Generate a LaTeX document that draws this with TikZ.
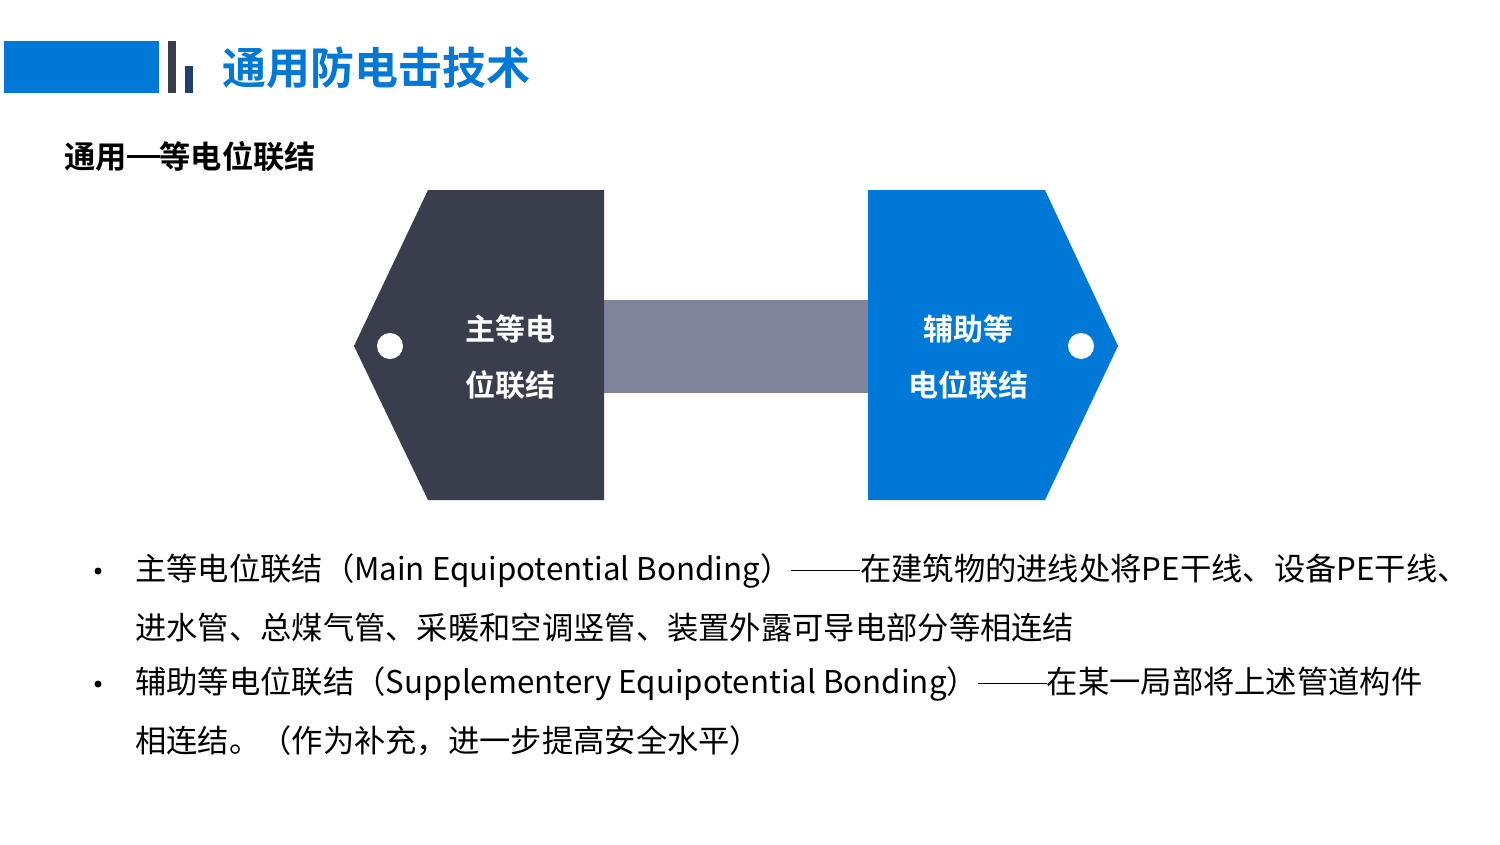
\documentclass[tikz,border=0pt]{standalone}
\usepackage{fontspec}
\setmainfont{Noto Sans CJK SC}[BoldFont={Noto Sans CJK SC Bold}]
\usepackage{xcolor}
\newcommand\longdash[2]{\rule[#2em]{#1em}{0.05em}}

\begin{document}
\begin{tikzpicture}[x=1pt,y=-1pt,
  shapetext/.style={text=white,font=\fontsize{30}{36}\selectfont\bfseries,align=center},
  bodytext/.style={anchor=west,inner sep=0pt,font=\fontsize{31.3}{36}\selectfont}]
\definecolor{winblue}{HTML}{0078D7}
\definecolor{slate}{HTML}{3A3D4B}
\definecolor{navy}{HTML}{1F3F6E}
\definecolor{bargray}{HTML}{80849B}
\path[use as bounding box,fill=white] (0,0) rectangle (1500,844);
% header
\fill[winblue] (4,41) rectangle (159,93);
\fill[slate] (168,41) rectangle (176,93);
\fill[navy] (185,66) rectangle (193,93);
\node[anchor=west,inner sep=0pt,text=winblue,font=\fontsize{44}{50}\selectfont\bfseries] (title) at (222,68) {通用防电击技术};
\node[anchor=west,inner sep=0pt,font=\fontsize{31.3}{36}\selectfont\bfseries] (subtitle) at (64,157) {通用\rule[0.36em]{1.05em}{0.09em}等电位联结};
% the two bonding blocks
\coordinate (Ltip) at (354,346);
\coordinate (Rtip) at (1118,346);
\fill[bargray] (604,300) rectangle (868,393);
\fill[slate] (428,190) -- (604,190) -- (604,500) -- (428,500) -- (Ltip) -- cycle;
\fill[winblue] (868,190) -- (1045,190) -- (Rtip) -- (1045,500) -- (868,500) -- cycle;
\fill[white] (390,346) circle (13);
\fill[white] (1081,346) circle (13);
\node[shapetext] (mainA) at (510,329) {主等电};
\node[shapetext] (mainB) at (510,385) {位联结};
\node[shapetext] (suppA) at (968,329) {辅助等};
\node[shapetext] (suppB) at (968,385) {电位联结};
% bullet text
\foreach \y in {571,684}
  {\node[circle,fill=black,inner sep=0pt,minimum size=7] (dot\y) at (98,\y) {};}
\foreach \y/\txt in {571/主等电位联结（Main Equipotential Bonding）\longdash{2.2}{0.3}在建筑物的进线处将PE干线、设备PE干线、,
  628/进水管、总煤气管、采暖和空调竖管、装置外露可导电部分等相连结,
  684/辅助等电位联结（Supplementery Equipotential Bonding）\longdash{2.2}{0.3}在某一局部将上述管道构件,
  741/相连结。（作为补充，进一步提高安全水平）}
  {\node[bodytext] (line\y) at (135,\y) {\txt};}
\end{tikzpicture}
\end{document}
